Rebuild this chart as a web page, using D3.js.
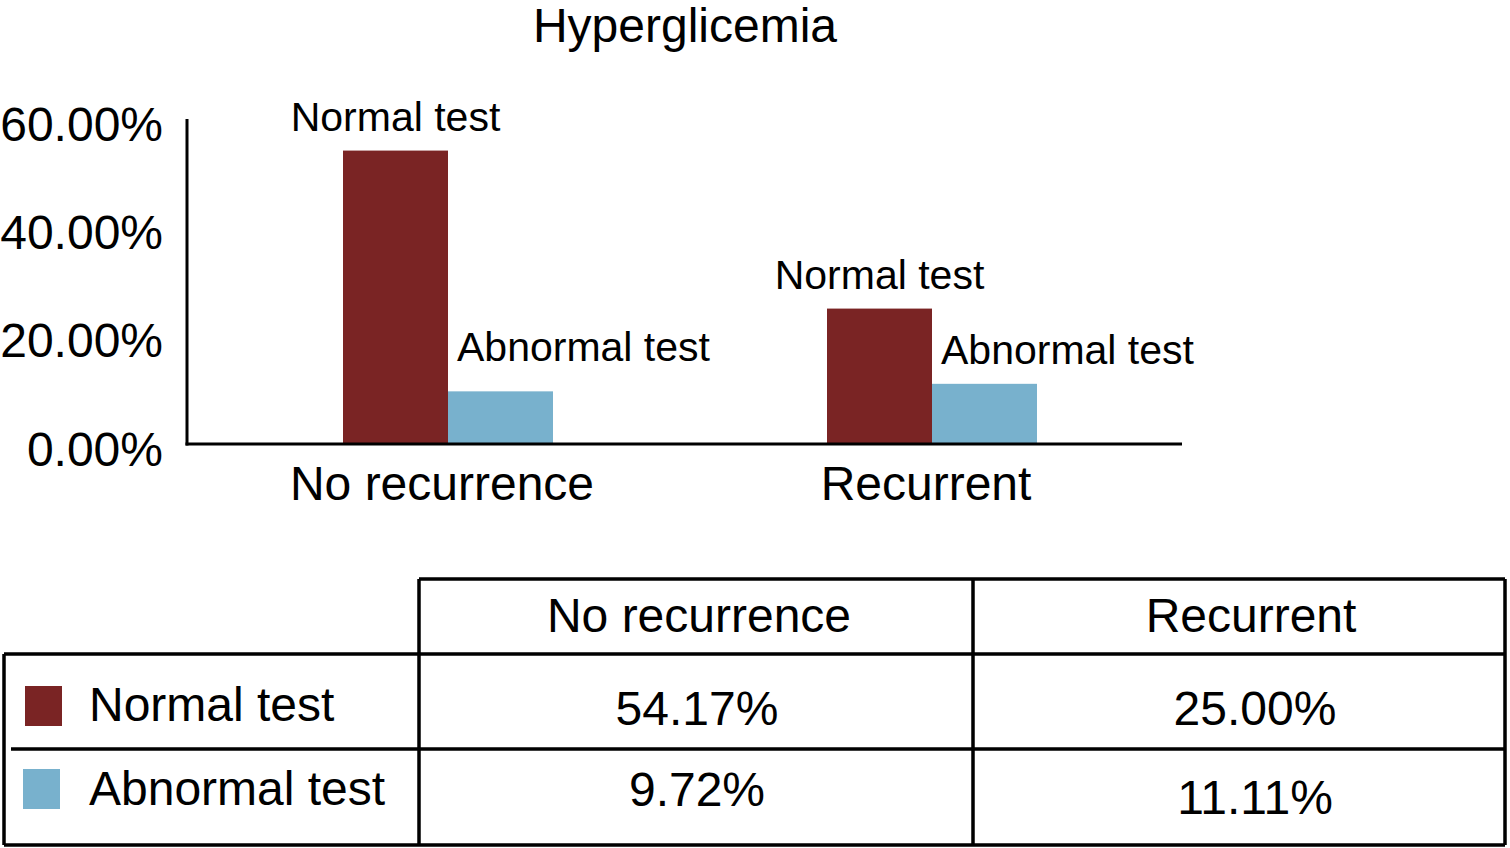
<!DOCTYPE html>
<html>
<head>
<meta charset="utf-8">
<script src="https://cdn.jsdelivr.net/npm/d3@7"></script>
<style>
  html, body { margin: 0; padding: 0; background: #fff; }
  svg { display: block; font-family: "Liberation Sans", Arial, Helvetica, sans-serif; }
</style>
</head>
<body>
<svg id="chart" width="1510" height="848"></svg>
<script>
// data
const categories = ['No recurrence', 'Recurrent'];
const seriesNames = ['Normal test', 'Abnormal test'];
const normalValues = [54.17, 25.00];
const abnormalValues = [9.72, 11.11];
const yTicks = [0, 20, 40, 60];
const colors = ['#7a2424', '#78b1cd'];

const values = [normalValues, abnormalValues];

const svg = d3.select('#chart');

// chart area
const yBase = 444;
const yTop = 119;

const x = d3.scaleBand()
  .domain(categories)
  .range([206, 1174])
  .padding(0);

const xInner = d3.scaleBand()
  .domain(seriesNames)
  .range([0, 210]);

const y = d3.scaleLinear()
  .domain([0, 60])
  .range([yBase, yTop]);

svg.append('text')
  .attr('x', 685)
  .attr('y', 42)
  .attr('text-anchor', 'middle')
  .attr('font-size', 48)
  .text('Hyperglicemia');

// bars
const groups = svg.append('g')
  .selectAll('g')
  .data(categories)
  .join('g')
  .attr('transform', c => `translate(${x(c) + x.bandwidth() / 2 - 105},0)`);

groups.selectAll('rect')
  .data((c, i) => seriesNames.map((s, j) => ({ s, j, v: values[j][i] })))
  .join('rect')
  .attr('x', d => xInner(d.s))
  .attr('y', d => y(d.v))
  .attr('width', xInner.bandwidth())
  .attr('height', d => y(0) - y(d.v))
  .attr('fill', d => colors[d.j]);

// bar labels
groups.selectAll('text.lbl')
  .data((c, i) => seriesNames.map((s, j) => ({ s, j, v: values[j][i], i })))
  .join('text')
  .attr('class', 'lbl')
  .attr('font-size', 41)
  .attr('text-anchor', d => d.j === 0 ? 'middle' : 'start')
  .attr('x', d => d.j === 0 ? xInner(d.s) + xInner.bandwidth() / 2 : xInner(d.s) + 9)
  .attr('y', d => y(d.v) - (d.j === 0 ? 20 : (d.i === 0 ? 30 : 20)))
  .text(d => d.s);

// y axis
const yAxis = svg.append('g')
  .attr('transform', `translate(187,0)`)
  .call(d3.axisLeft(y).tickValues(yTicks).tickSize(0).tickPadding(24)
    .tickFormat(d => d.toFixed(2) + '%'));
yAxis.select('.domain').attr('stroke', '#000').attr('stroke-width', 3).attr('d', `M0,${yTop}V${yBase + 1.5}`);
yAxis.selectAll('text')
  .attr('font-size', 48)
  .attr('font-family', null)
  .attr('fill', '#000')
  .attr('dy', '0.44em');

// x axis
const xAxis = svg.append('g')
  .attr('transform', `translate(0,${yBase})`)
  .call(d3.axisBottom(x).tickSize(0).tickPadding(22));
xAxis.select('.domain').attr('stroke', '#000').attr('stroke-width', 3).attr('d', 'M185.5,0H1182');
xAxis.selectAll('text')
  .attr('font-size', 48)
  .attr('font-family', null)
  .attr('fill', '#000')
  .attr('dx', -6);

// table
const tbl = svg.append('g').attr('stroke', '#000').attr('stroke-width', 3.5).attr('fill', 'none');
const colEdges = [4, 419, 973, 1505];
const rowEdges = [579, 654, 749, 845];

tbl.append('path').attr('d',
  `M${colEdges[1]},${rowEdges[0]}H${colEdges[3]}` +
  `M${colEdges[0]},${rowEdges[1]}H${colEdges[3]}` +
  `M11,${rowEdges[2]}H${colEdges[3]}` +
  `M${colEdges[0]},${rowEdges[3]}H${colEdges[3]}` +
  `M${colEdges[0]},${rowEdges[1]}V${rowEdges[3]}` +
  `M${colEdges[1]},${rowEdges[0]}V${rowEdges[3]}` +
  `M${colEdges[2]},${rowEdges[0]}V${rowEdges[3]}` +
  `M${colEdges[3]},${rowEdges[0]}V${rowEdges[3]}`);

const colText = [697, 1255];

svg.append('g')
  .selectAll('text')
  .data(categories)
  .join('text')
  .attr('x', (c, i) => colText[i] + (i === 0 ? 2 : -4))
  .attr('y', 632)
  .attr('text-anchor', 'middle')
  .attr('font-size', 48)
  .text(c => c);

const rowBase = [[721, 725, 725], [805, 806, 814]];
const swatchX = [25, 23];
const swatchY = [686, 769];

const rows = svg.append('g')
  .selectAll('g')
  .data(seriesNames)
  .join('g');

rows.append('rect')
  .attr('x', (s, j) => swatchX[j])
  .attr('y', (s, j) => swatchY[j])
  .attr('width', 37)
  .attr('height', 40)
  .attr('fill', (s, j) => colors[j]);

rows.append('text')
  .attr('x', 89)
  .attr('y', (s, j) => rowBase[j][0])
  .attr('font-size', 48)
  .text(s => s);

rows.selectAll('text.val')
  .data((s, j) => values[j].map((v, i) => ({ v, i, j })))
  .join('text')
  .attr('class', 'val')
  .attr('x', d => colText[d.i])
  .attr('y', d => rowBase[d.j][d.i + 1])
  .attr('text-anchor', 'middle')
  .attr('font-size', 48)
  .text(d => d.v.toFixed(2) + '%');
</script>
</body>
</html>
